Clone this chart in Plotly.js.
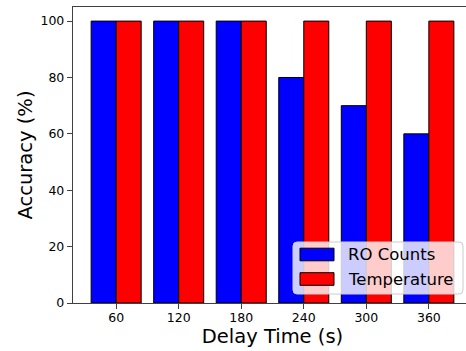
<!DOCTYPE html>
<html>
<head>
<meta charset="utf-8">
<script src="https://cdn.plot.ly/plotly-3.0.1.min.js"></script>
<style>
html,body{margin:0;padding:0;background:#fff;overflow:hidden;}
#wrap{width:466px;height:351px;overflow:hidden;}
#chart{width:472px;height:351px;}
</style>
</head>
<body>
<div id="wrap"><div id="chart"></div></div>
<script>
const categories = ["60", "120", "180", "240", "300", "360"];
const roCounts = [100, 100, 100, 80, 70, 60];
const temperature = [100, 100, 100, 100, 100, 100];
const yTicks = [0, 20, 40, 60, 80, 100];
const seriesNames = ["RO Counts", "Temperature"];
const seriesColors = ["#0000ff", "#ff0000"];

const font = "DejaVu Sans, sans-serif";
const axisColor = "#404040";

const W = 472, H = 351;
const M = {l: 73, r: 0, t: 7, b: 48};
const PW = W - M.l - M.r, PH = H - M.t - M.b;
const px = v => (v - M.l) / PW;
const py = v => (H - M.b - v) / PH;

const traces = [
  {type: "bar", name: seriesNames[0], x: categories, y: roCounts,
   marker: {color: seriesColors[0], line: {color: "#000000", width: 1}}},
  {type: "bar", name: seriesNames[1], x: categories, y: temperature,
   marker: {color: seriesColors[1], line: {color: "#000000", width: 1}}}
];

// manual matplotlib-style legend
function roundRect(x0, y0, x1, y1, r) {
  const X = v => px(v), Y = v => py(v);
  return `M${X(x0 + r)},${Y(y0)} L${X(x1 - r)},${Y(y0)} Q${X(x1)},${Y(y0)} ${X(x1)},${Y(y0 + r)} ` +
         `L${X(x1)},${Y(y1 - r)} Q${X(x1)},${Y(y1)} ${X(x1 - r)},${Y(y1)} ` +
         `L${X(x0 + r)},${Y(y1)} Q${X(x0)},${Y(y1)} ${X(x0)},${Y(y1 - r)} ` +
         `L${X(x0)},${Y(y0 + r)} Q${X(x0)},${Y(y0)} ${X(x0 + r)},${Y(y0)} Z`;
}
const shapes = [{
  type: "path", xref: "paper", yref: "paper", layer: "above",
  path: roundRect(293, 242, 463, 294, 4),
  fillcolor: "rgba(255,255,255,0.8)", line: {color: "#cccccc", width: 1}
}];
const annotations = [];
const rowCenters = [254.5, 279];
seriesNames.forEach((n, i) => {
  const c = rowCenters[i];
  shapes.push({
    type: "rect", xref: "paper", yref: "paper", layer: "above",
    x0: px(300), x1: px(334), y0: py(c - 6.3), y1: py(c + 6.3),
    fillcolor: seriesColors[i], line: {color: "#000000", width: 1}
  });
  annotations.push({
    xref: "paper", yref: "paper", x: px(346), y: py(c),
    xanchor: "left", yanchor: "middle", showarrow: false, text: n,
    font: {family: font, size: 16.5, color: "#000000"}
  });
});

const layout = {
  width: W, height: H,
  margin: {l: M.l, r: M.r, t: M.t, b: M.b, pad: 0},
  paper_bgcolor: "#ffffff", plot_bgcolor: "#ffffff",
  font: {family: font, color: "#000000"},
  barmode: "group", bargap: 0.2, bargroupgap: 0,
  showlegend: false,
  shapes: shapes, annotations: annotations,
  xaxis: {
    type: "category", range: [-0.69, 5.69],
    showline: true, linecolor: axisColor, linewidth: 1.2, mirror: true,
    ticks: "outside", ticklen: 5, tickwidth: 1, tickcolor: axisColor,
    ticklabelstandoff: -2,
    tickfont: {family: font, size: 12.5, color: "#000000"},
    showgrid: false, zeroline: false, automargin: false,
    title: {text: "Delay Time (s)", font: {family: font, size: 19.5, color: "#000000"}, standoff: 4}
  },
  yaxis: {
    range: [0, 105], tickvals: yTicks,
    showline: true, linecolor: axisColor, linewidth: 1.2, mirror: false,
    ticks: "outside", ticklen: 5, tickwidth: 1, tickcolor: axisColor,
    tickfont: {family: font, size: 12.5, color: "#000000"},
    showgrid: false, zeroline: false, automargin: false,
    title: {text: "Accuracy (%)", font: {family: font, size: 19.5, color: "#000000"}, standoff: 2}
  }
};

Plotly.newPlot("chart", traces, layout, {displayModeBar: false, staticPlot: true});
</script>
</body>
</html>
